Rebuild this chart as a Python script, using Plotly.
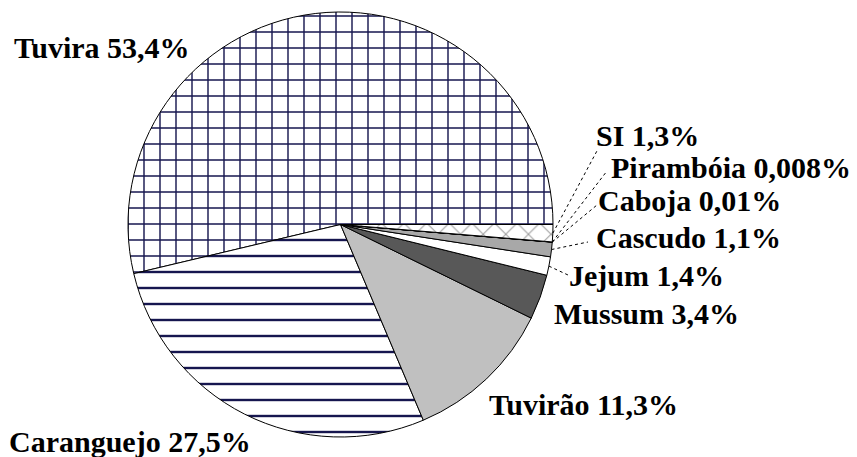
import math
import plotly.graph_objects as go

# ---------------- data ----------------
labels = ["Tuvira", "Caranguejo", "Tuvirão", "Mussum", "Jejum",
          "Cascudo", "Caboja", "Pirambóia", "SI"]
values = [53.4, 27.5, 11.3, 3.4, 1.4, 1.1, 0.01, 0.008, 1.3]
pct_text = ["53,4%", "27,5%", "11,3%", "3,4%", "1,4%",
            "1,1%", "0,01%", "0,008%", "1,3%"]

# ---------------- styles ----------------
fill_colors = ["white", "white", "#c0c0c0", "#585858", "white",
               "#a8a8a8", "#808080", "#404040", "white"]
pat_shapes = ["+", "-", "", "", "", "", "", "", "x"]
pat_fg = ["#16164f", "#16164f", "#c0c0c0", "#585858", "white",
          "#a8a8a8", "#808080", "#404040", "#9a9a9a"]
pat_bg = ["white", "white", "#c0c0c0", "#585858", "white",
          "#a8a8a8", "#808080", "#404040", "white"]
pat_solidity = [0.17, 0.15, 0.5, 0.5, 0.5, 0.5, 0.5, 0.5, 0.12]

W, H = 857, 457
OFF = 8  # page body margin in the screenshot
CX, CY, R = 340.5, 224.5, 212.5  # pie centre / radius (screen pixels)
FONT_SIZE = 30


def px2paper(x, y):
    return (x - OFF) / W, 1 - (y - OFF) / H


# label anchor (left x, middle y) in screen pixels
label_pos = [(12, 47), (7, 441), (487, 404), (552, 313), (567, 275),
             (594, 238), (596, 200), (609, 167), (594, 135)]
# outer end of leader lines (None = no line)
leader_end = [None, None, None, None, (568, 275), (588, 242),
              (597, 205), (607, 171), (598, 149)]

total = sum(values)
# first slice starts at 3 o'clock and runs counter-clockwise
rotation = 90 - 360 * values[0] / total

x0, y1 = px2paper(CX - R, CY - R)
x1, y0 = px2paper(CX + R, CY + R)

fig = go.Figure(go.Pie(
    labels=labels,
    values=values,
    sort=False,
    direction="counterclockwise",
    rotation=rotation,
    textinfo="none",
    hoverinfo="label+percent",
    showlegend=False,
    marker=dict(
        colors=fill_colors,
        line=dict(color="black", width=1),
        pattern=dict(shape=pat_shapes, fgcolor=pat_fg, bgcolor=pat_bg,
                     size=16, solidity=pat_solidity, fillmode="replace"),
    ),
    domain=dict(x=[x0, x1], y=[y0, y1]),
))

annotations = []
shapes = []
cum = 0.0
for i, (lab, v, t) in enumerate(zip(labels, values, pct_text)):
    ax_, ay_ = px2paper(*label_pos[i])
    annotations.append(dict(
        x=ax_, y=ay_, xref="paper", yref="paper",
        xanchor="left", yanchor="middle", showarrow=False,
        text=f"<b>{lab} {t}</b>",
        font=dict(family="Liberation Serif", size=FONT_SIZE, color="black"),
    ))
    theta = 2 * math.pi * (cum + v / 2) / total
    cum += v
    if leader_end[i] is not None:
        sx, sy = px2paper(CX + R * math.cos(theta), CY - R * math.sin(theta))
        ex, ey = px2paper(*leader_end[i])
        shapes.append(dict(
            type="line", xref="paper", yref="paper",
            x0=sx, y0=sy, x1=ex, y1=ey,
            line=dict(color="black", width=1, dash="dot"),
        ))

fig.update_layout(
    width=W, height=H,
    margin=dict(l=0, r=0, t=0, b=0),
    paper_bgcolor="white",
    plot_bgcolor="white",
    annotations=annotations,
    shapes=shapes,
)

fig.write_html("out.html")
